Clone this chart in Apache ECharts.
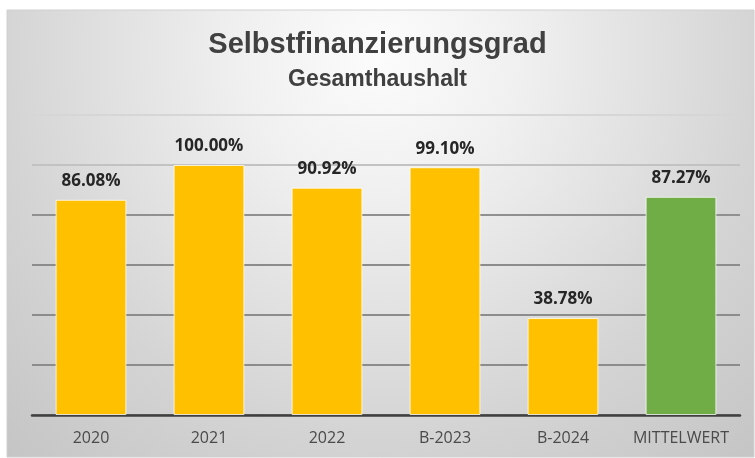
<!DOCTYPE html>
<html>
<head>
<meta charset="utf-8">
<style>
  html, body { margin: 0; padding: 0; background: #ffffff; }
  #chart { width: 755px; height: 458px; }
</style>
<script src="https://cdn.jsdelivr.net/npm/echarts@6/dist/echarts.min.js"></script>
</head>
<body>
<div id="chart"></div>
<script>
// Data
const categories = ['2020', '2021', '2022', 'B-2023', 'B-2024', 'MITTELWERT'];
const values = [86.08, 100.00, 90.92, 99.10, 38.78, 87.27];
const titleText = 'Selbstfinanzierungsgrad';
const subtitleText = 'Gesamthaushalt';

const yellow = '#FFC000';
const green = '#70AD47';

const chart = echarts.init(document.getElementById('chart'), null, { renderer: 'canvas' });

const option = {
  animation: false,
  backgroundColor: '#ffffff',
  graphic: [{
    type: 'rect',
    z: -10,
    silent: true,
    shape: { x: 7, y: 10, width: 747, height: 447 },
    style: {
      fill: {
        type: 'radial', x: 0.5, y: 0.1, r: 1.25,
        colorStops: [
          { offset: 0, color: '#fcfcfc' },
          { offset: 0.25, color: '#f0f0f0' },
          { offset: 0.68, color: '#d4d4d4' },
          { offset: 1, color: '#c4c4c4' }
        ]
      },
      stroke: '#d0d0d0',
      lineWidth: 1
    }
  }],
  title: [{
    text: titleText,
    left: 'center',
    top: 25,
    textStyle: { fontFamily: '"Liberation Sans", Arial, sans-serif', fontWeight: 'bold', fontSize: 29, color: '#404040' }
  }, {
    text: subtitleText,
    left: 'center',
    top: 63,
    textStyle: { fontFamily: '"Liberation Sans", Arial, sans-serif', fontWeight: 'bold', fontSize: 23, color: '#404040' }
  }],
  grid: { left: 32, right: 15, top: 115, bottom: 43 },
  xAxis: {
    type: 'category',
    data: categories,
    axisLine: { show: true, lineStyle: { color: '#404040', width: 2.5 } },
    axisTick: { show: false },
    axisLabel: { interval: 0, fontFamily: '"Open Sans", sans-serif', fontSize: 16, color: '#4a4a4a', margin: 15 }
  },
  yAxis: {
    type: 'value',
    min: 0,
    max: 120,
    interval: 20,
    axisLabel: { show: false },
    axisLine: { show: false },
    axisTick: { show: false },
    splitLine: {
      show: true,
      lineStyle: {
        width: 1.8,
        color: ['#8c8c8c', '#8c8c8c', '#8c8c8c', '#8c8c8c', '#909090', '#c2c2c2', '#d6d6d6']
      }
    }
  },
  series: [{
    type: 'bar',
    data: values.map((v, i) => ({
      value: v,
      itemStyle: { color: categories[i] === 'MITTELWERT' ? green : yellow }
    })),
    barWidth: '60%',
    itemStyle: { borderColor: 'rgba(255,255,255,0.75)', borderWidth: 1 },
    label: {
      show: true,
      position: 'top',
      distance: 10,
      formatter: p => p.value.toFixed(2) + '%',
      fontFamily: '"Open Sans", sans-serif',
      fontWeight: 'bold',
      fontSize: 17,
      color: '#262626'
    }
  }]
};

chart.setOption(option);
</script>
</body>
</html>
